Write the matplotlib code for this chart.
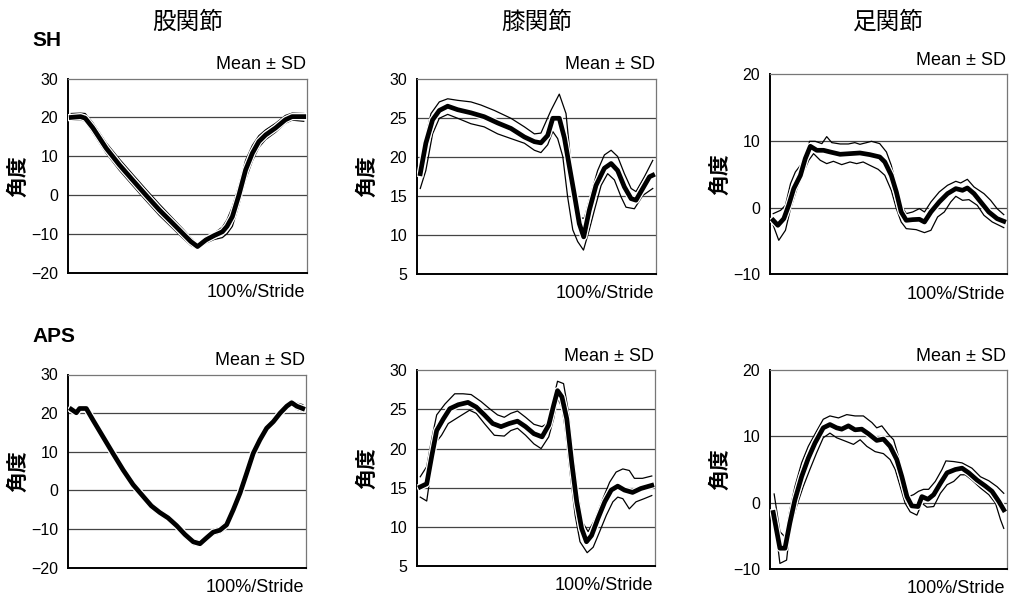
import matplotlib.pyplot as plt
import matplotlib.patheffects as pe

plt.rcParams['font.family'] = ['Liberation Sans', 'Noto Sans CJK JP']

# ---- data: joint angle (deg) over one stride (%), mean and +-SD lines ----
# hip SH
hip_sh_x = [0, 4, 6, 9.3, 15, 20.7, 26.4, 32, 37.9, 43.6, 47.9, 51.4, 54.3, 57.9, 61.4, 65, 67,
            69.3, 72.1, 75, 77.9, 80.7, 83.6, 87.9, 92.1, 95, 100]
hip_sh_mean = [20.0, 20.2, 19.8, 17.3, 12.1, 7.8, 3.9, 0.1, -3.8, -7.2, -9.8, -11.9, -13.2, -11.5,
               -10.4, -9.4, -8.0, -5.5, 0.0, 6.5, 10.8, 13.8, 15.5, 17.3, 19.4, 20.2, 20.2]
hip_sh_up = [21.0, 21.1, 21.0, 18.6, 13.5, 9.3, 5.4, 1.6, -2.3, -5.9, -8.6, -10.9, -12.5, -10.8,
             -9.8, -8.2, -6.3, -3.0, 2.5, 9.0, 12.8, 15.3, 16.8, 18.5, 20.5, 21.1, 21.0]
hip_sh_lo = [19.3, 19.4, 19.0, 16.0, 10.8, 6.4, 2.5, -1.3, -5.2, -8.5, -11.0, -12.9, -13.8, -12.3,
             -11.4, -10.9, -9.9, -8.0, -2.5, 4.0, 8.8, 12.3, 14.3, 16.2, 18.5, 19.3, 19.0]

# knee SH
knee_sh_x = [0, 2.4, 5.3, 8.2, 11.8, 16.1, 21.8, 27.5, 33.3, 39.0, 44.8, 49.1, 51.9, 54.8, 57.0,
             59.8, 62.0, 64.1, 66.3, 68.4, 70.3, 72.7, 75.6, 79.2, 82.1, 84.9, 87.8, 90.7, 92.8,
             95.7, 98.6, 100]
knee_sh_mean = [17.8, 21.7, 24.7, 25.9, 26.45, 26.0, 25.6, 25.1, 24.3, 23.6, 22.5, 21.9, 21.75,
                22.7, 24.9, 24.9, 22.4, 18.8, 15.1, 11.4, 9.7, 13.1, 16.3, 18.5, 19.1, 18.2, 16.1,
                14.6, 14.4, 15.9, 17.4, 17.6]
knee_sh_up_x = [0, 4.6, 8.2, 11.8, 16.1, 21.8, 26.1, 31.9, 39.0, 44.8, 49.1, 51.9, 56.2, 59.8,
                62.7, 64.8, 67.0, 68.4, 70.6, 73.5, 76.3, 79.2, 82.1, 84.9, 87.8, 90.7, 92.8,
                96.4, 100]
knee_sh_up = [19.5, 25.5, 27.0, 27.4, 27.2, 27.0, 26.6, 25.9, 24.9, 23.8, 22.9, 23.0, 25.9, 28.0,
              25.5, 19.1, 14.8, 12.1, 12.1, 15.3, 18.2, 20.2, 20.8, 20.0, 17.8, 15.9, 15.5,
              17.4, 19.5]
knee_sh_lo_x = [0, 2.4, 5.3, 8.2, 11.8, 16.1, 21.8, 27.5, 33.3, 39.0, 44.8, 49.1, 51.9, 54.8,
                57.0, 59.1, 61.3, 63.4, 65.6, 67.7, 70.2, 72.7, 74.9, 77.8, 80.6, 83.5, 86.4,
                88.5, 92.1, 95.7, 100]
knee_sh_lo = [15.9, 18.2, 22.9, 24.9, 25.4, 24.9, 24.2, 23.8, 22.9, 22.3, 21.7, 20.8, 20.5, 21.5,
              23.2, 22.3, 20.0, 14.8, 10.6, 9.1, 8.0, 10.6, 13.1, 16.3, 17.8, 17.0, 14.8, 13.5,
              13.3, 15.0, 15.9]

# ankle SH
ankle_sh_x = [0, 2.0, 4.6, 6.7, 8.9, 11.8, 13.9, 16.1, 18.9, 21.8, 24.7, 29.0, 33.3, 37.6, 41.9,
              46.2, 48.4, 51.2, 53.4, 55.5, 57.7, 60.5, 63.4, 65.6, 68.4, 72.0, 75.6, 79.2, 82.1,
              84.2, 87.1, 90.0, 93.5, 97.1, 100]
ankle_sh_mean = [-1.9, -2.65, -1.65, 0.35, 2.85, 4.85, 7.35, 9.2, 8.6, 8.6, 8.35, 8.0, 8.1, 8.2,
                 7.95, 7.6, 6.85, 4.85, 2.35, -0.65, -1.9, -1.8, -1.75, -2.15, -0.65, 0.85, 2.1,
                 2.85, 2.6, 2.95, 2.1, 0.85, -0.65, -1.65, -2.05]
ankle_sh_up_x = [0, 3.2, 5.3, 7.5, 9.6, 11.8, 13.9, 15.8, 18.2, 21.1, 23.2, 25.4, 29.0, 32.6,
                 35.4, 37.6, 40.5, 42.6, 46.2, 49.1, 51.2, 53.4, 55.5, 57.7, 60.5, 63.4, 65.6,
                 68.4, 72.0, 75.6, 79.2, 81.3, 84.2, 87.1, 91.4, 94.3, 97.1, 100]
ankle_sh_up = [-0.9, -0.4, 0.35, 3.6, 5.35, 6.35, 7.85, 9.95, 9.95, 9.6, 10.65, 9.75, 9.55, 9.55,
               9.75, 9.5, 9.75, 9.95, 9.6, 8.35, 6.35, 3.35, 0.35, -0.9, -0.65, -0.15, -0.65,
               0.85, 2.35, 3.35, 3.95, 3.7, 4.25, 3.1, 2.1, 1.1, -0.15, -1.05]
ankle_sh_lo_x = [0, 2.4, 5.3, 7.5, 10.3, 13.2, 15.4, 17.5, 20.4, 23.2, 26.1, 29.7, 33.3, 36.2,
                 39.0, 41.9, 45.5, 48.4, 51.2, 53.4, 55.5, 57.7, 62.0, 65.6, 68.4, 71.3, 74.2,
                 77.0, 79.2, 82.1, 84.9, 88.5, 91.4, 95.0, 100]
ankle_sh_lo = [-2.65, -4.9, -3.4, -0.15, 2.85, 5.35, 7.1, 8.1, 7.1, 6.6, 6.95, 6.45, 6.85, 6.6,
               6.85, 6.35, 5.75, 4.85, 2.6, -0.15, -2.15, -3.15, -3.3, -3.75, -3.4, -1.4, -0.65,
               0.85, 1.7, 1.1, 1.2, 0.35, -1.15, -2.15, -3.0]

# hip APS
hip_aps_x = [0, 2.2, 3.6, 6.5, 9.4, 13.7, 18.0, 22.4, 26.7, 31.0, 34.6, 38.2, 41.8, 45.5, 49.1,
             52.7, 55.6, 58.4, 61.3, 64.2, 67.1, 70.0, 72.9, 75.8, 78.6, 81.5, 84.4, 87.3, 90.2,
             93.1, 95.2, 97.4, 100]
hip_aps_mean = [21.0, 20.1, 21.2, 21.2, 18.2, 13.9, 9.6, 5.3, 1.5, -1.5, -4.0, -5.7, -7.1, -9.1,
                -11.4, -13.3, -13.8, -12.3, -10.8, -10.3, -8.9, -5.0, -0.7, 4.5, 9.6, 13.1, 16.1,
                17.8, 20.0, 21.8, 22.7, 21.8, 21.2]
hip_aps_up = [21.7, 20.8, 21.9, 21.9, 19.0, 14.8, 10.5, 6.2, 2.4, -0.7, -3.2, -5.0, -6.4, -8.4,
              -10.6, -12.6, -13.2, -11.6, -10.1, -9.6, -7.9, -3.8, 0.6, 5.8, 10.7, 14.0, 16.9,
              18.6, 20.8, 22.5, 23.3, 22.6, 22.2]
hip_aps_lo = [20.3, 19.5, 20.5, 20.5, 17.4, 13.0, 8.7, 4.4, 0.6, -2.3, -4.8, -6.4, -7.8, -9.8,
              -12.2, -14.0, -14.4, -13.0, -11.5, -11.0, -9.9, -6.2, -2.0, 3.2, 8.5, 12.2, 15.3,
              17.0, 19.2, 21.1, 22.0, 21.0, 20.5]

# knee APS
knee_aps_x = [0, 2.8, 5.0, 7.1, 10.0, 12.8, 16.4, 20.6, 24.2, 27.7, 31.3, 34.9, 38.4, 42.0, 45.5,
              49.1, 52.6, 55.5, 57.6, 59.3, 61.2, 63.3, 65.4, 67.6, 69.7, 71.8, 74.0, 76.8, 79.7,
              82.5, 85.3, 88.2, 91.7, 95.3, 100]
knee_aps_mean = [15.1, 15.5, 19.1, 22.3, 23.8, 25.1, 25.6, 25.9, 25.3, 24.3, 23.2, 22.8, 23.2,
                 23.5, 22.8, 21.9, 21.5, 23.0, 25.5, 27.4, 26.6, 23.8, 18.3, 13.2, 9.8, 8.1, 8.9,
                 11.1, 13.2, 14.7, 15.2, 14.7, 14.4, 14.9, 15.3]
knee_aps_up_x = [0, 2.8, 5.0, 7.1, 10.7, 14.9, 18.5, 22.0, 26.3, 29.9, 33.4, 36.3, 39.1, 42.0,
                 45.5, 49.1, 52.6, 54.8, 57.2, 59.3, 61.9, 64.0, 66.1, 68.3, 70.1, 72.5, 75.4,
                 78.9, 81.8, 84.6, 87.5, 90.3, 92.5, 96.0, 100]
knee_aps_up = [16.4, 17.7, 21.3, 24.3, 25.7, 27.0, 27.0, 26.9, 26.0, 25.1, 24.3, 24.0, 24.5, 24.8,
               24.0, 23.1, 22.8, 23.2, 26.0, 28.6, 28.3, 24.7, 19.1, 14.0, 10.6, 9.4, 10.9, 13.6,
               15.7, 17.0, 17.4, 17.2, 16.2, 16.2, 16.5]
knee_aps_lo_x = [0, 2.8, 5.0, 7.1, 9.2, 12.1, 16.4, 21.3, 24.2, 27.7, 32.0, 36.3, 39.1, 42.0,
                 45.5, 49.1, 52.2, 55.5, 57.6, 59.3, 61.2, 62.6, 64.7, 66.9, 69.0, 72.1, 74.7,
                 77.5, 80.4, 83.2, 85.3, 87.5, 90.3, 93.2, 96.7, 100]
knee_aps_lo = [13.8, 13.3, 17.9, 20.9, 21.7, 23.2, 24.0, 24.9, 24.5, 23.2, 21.7, 21.6, 22.3, 22.6,
               21.7, 20.6, 20.0, 21.5, 23.8, 26.4, 25.3, 22.6, 17.0, 11.5, 8.1, 6.7, 7.4, 9.4,
               11.5, 13.2, 13.8, 13.6, 12.3, 13.2, 13.6, 14.0]

# ankle APS
ankle_aps_x = [0, 2.9, 5.1, 7.2, 9.4, 12.3, 15.2, 18.1, 21.7, 24.6, 27.5, 29.7, 32.6, 35.5, 38.4,
               41.3, 44.9, 47.8, 50.7, 53.6, 55.8, 58.0, 60.1, 62.8, 64.5, 67.1, 69.6, 72.5, 75.4,
               79.0, 81.9, 84.8, 88.4, 92.0, 94.9, 97.8, 100]
ankle_aps_mean = [-1.5, -6.9, -6.9, -3.1, 0.4, 3.9, 6.7, 9.0, 11.3, 11.8, 11.3, 11.1, 11.6, 11.0,
                  11.1, 10.4, 9.4, 9.6, 8.5, 6.5, 3.9, 0.9, -0.5, -0.6, 0.9, 0.5, 1.2, 2.9, 4.5,
                  5.0, 5.2, 4.5, 3.4, 2.5, 1.7, 0.2, -1.1]
ankle_aps_up_x = [0.4, 2.9, 5.1, 7.2, 9.4, 12.3, 15.2, 18.8, 21.7, 24.6, 28.3, 31.9, 35.5, 39.1,
                  42.8, 44.9, 47.1, 50.0, 52.2, 54.3, 56.5, 58.7, 60.9, 63.0, 65.2, 67.4, 70.3,
                  73.2, 74.9, 78.3, 81.9, 86.2, 89.9, 93.5, 97.1, 100]
ankle_aps_up = [1.3, -4.4, -5.2, -1.1, 2.4, 6.0, 8.5, 10.8, 12.6, 13.1, 12.8, 13.3, 13.1, 13.1,
                12.1, 11.3, 11.6, 10.3, 9.5, 7.0, 3.9, 0.9, 1.2, 1.7, 2.0, 2.0, 3.2, 5.0, 6.3,
                6.2, 6.0, 5.2, 3.9, 3.3, 2.4, 1.4]
ankle_aps_lo_x = [0.4, 2.9, 5.8, 7.2, 10.1, 13.0, 15.9, 18.8, 21.7, 24.6, 27.5, 31.2, 34.8, 37.7,
                  40.6, 44.2, 47.8, 50.7, 52.9, 55.1, 57.2, 59.4, 62.3, 64.5, 66.7, 69.6, 72.5,
                  75.4, 78.3, 81.2, 83.3, 86.2, 89.9, 93.5, 96.4, 98.6, 100]
ankle_aps_lo = [-2.1, -9.2, -8.7, -4.2, -0.6, 2.4, 5.0, 7.5, 9.8, 10.5, 9.8, 9.3, 8.8, 9.5, 8.5,
                7.7, 7.4, 6.5, 5.0, 2.4, -0.1, -1.4, -1.9, -0.1, -0.7, -0.6, 1.4, 2.7, 3.2, 4.2,
                4.2, 3.4, 2.2, 1.2, -0.1, -2.6, -3.9]

col_titles = ['股関節', '膝関節', '足関節']
row_titles = ['SH', 'APS']
hip_ticks = [-20, -10, 0, 10, 20, 30]
knee_ticks = [5, 10, 15, 20, 25, 30]
ankle_ticks = [-10, 0, 10, 20]

panels = [
    # (row, col, mean_x, mean, up_x, up, lo_x, lo, ticks)
    (0, 0, hip_sh_x, hip_sh_mean, hip_sh_x, hip_sh_up, hip_sh_x, hip_sh_lo, hip_ticks),
    (0, 1, knee_sh_x, knee_sh_mean, knee_sh_up_x, knee_sh_up, knee_sh_lo_x, knee_sh_lo, knee_ticks),
    (0, 2, ankle_sh_x, ankle_sh_mean, ankle_sh_up_x, ankle_sh_up, ankle_sh_lo_x, ankle_sh_lo, ankle_ticks),
    (1, 0, hip_aps_x, hip_aps_mean, hip_aps_x, hip_aps_up, hip_aps_x, hip_aps_lo, hip_ticks),
    (1, 1, knee_aps_x, knee_aps_mean, knee_aps_up_x, knee_aps_up, knee_aps_lo_x, knee_aps_lo, knee_ticks),
    (1, 2, ankle_aps_x, ankle_aps_mean, ankle_aps_up_x, ankle_aps_up, ankle_aps_lo_x, ankle_aps_lo, ankle_ticks),
]

# axes boxes in pixels: left, right, top, bottom
boxes = {
    (0, 0): (68, 307, 78.5, 273), (0, 1): (417, 656, 78.5, 273.5), (0, 2): (770, 1007, 74.3, 274.3),
    (1, 0): (68, 306, 374.5, 567.7), (1, 1): (417, 655, 370.3, 566), (1, 2): (770, 1007, 370.3, 568.7),
}

W, H = 1010, 601
fig = plt.figure(figsize=(W / 100, H / 100), dpi=100)
fig.patch.set_facecolor('white')

halo = [pe.Stroke(linewidth=5.2, foreground='white'), pe.Normal()]

for r, c, mx, my, ux, uy, lx, ly, ticks in panels:
    l, rgt, t, b = boxes[(r, c)]
    ax = fig.add_axes([l / W, 1 - b / H, (rgt - l) / W, (b - t) / H])
    ax.set_xlim(-1.4, 101.4)
    ax.set_ylim(ticks[0], ticks[-1])
    ax.set_xticks([])
    ax.set_yticks(ticks)
    ax.tick_params(axis='y', length=0, pad=7, labelsize=11.5)
    for v in ticks[1:-1]:
        ax.axhline(v, color='#444444', lw=0.9, zorder=1)
    ax.spines['left'].set_linewidth(1.4)
    ax.spines['bottom'].set_linewidth(1.4)
    for s in ['top', 'right']:
        ax.spines[s].set_color('#777777')
        ax.spines[s].set_linewidth(0.9)

    ax.plot(ux, uy, color='black', lw=0.9, zorder=2)
    ax.plot(lx, ly, color='black', lw=0.9, zorder=2)
    ax.plot(mx, my, color='black', lw=3.4, zorder=3, solid_joinstyle='round',
            path_effects=halo)

    ax.text(-50 / (rgt - l), 0.5, '角度', transform=ax.transAxes, rotation=90,
            ha='center', va='center', fontsize=15, fontweight='bold',
            family=['Noto Sans CJK JP'])
    ax.annotate('Mean ± SD', xy=(1, 1), xycoords='axes fraction', xytext=(-1, 7),
                textcoords='offset points', ha='right', va='baseline', fontsize=13)
    ax.annotate('100%/Stride', xy=(1, 0), xycoords='axes fraction', xytext=(-1, -17.5),
                textcoords='offset points', ha='right', va='baseline', fontsize=13)

    if r == 0:
        fig.text((l + rgt) / 2 / W, 1 - 22 / H, col_titles[c], ha='center', va='center',
                 fontsize=17, family=['Noto Sans CJK JP'])

fig.text(32 / W, 1 - 40 / H, row_titles[0], ha='left', va='center', fontsize=15,
         fontweight='bold')
fig.text(32 / W, 1 - 337 / H, row_titles[1], ha='left', va='center', fontsize=15,
         fontweight='bold')

fig.savefig('out.png', dpi=100, facecolor='white')
